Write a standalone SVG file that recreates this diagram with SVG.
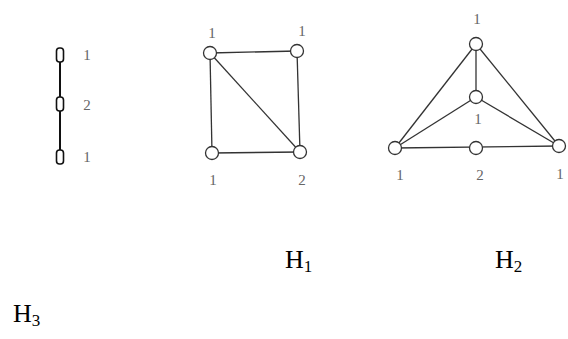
<svg xmlns="http://www.w3.org/2000/svg" width="568" height="339" viewBox="0 0 568 339">
<style>
.lbl{font-family:"Liberation Serif",serif;font-size:15px;fill:#666;text-anchor:middle}
.cap{font-family:"Liberation Serif",serif;font-size:26px;fill:#000}
.sub{font-size:17px}
.e{stroke:#333;stroke-width:1.3;fill:none}
.e0{stroke:#111;stroke-width:2;fill:none}
.n{fill:#fff;stroke:#333;stroke-width:1.3}
.r{fill:#fff;stroke:#111;stroke-width:1.6}
</style>
<rect width="568" height="339" fill="#fff"/>
<g id="connectors">
<line class="e0" x1="60" y1="55" x2="60" y2="157"/>
<line class="e" x1="210" y1="53" x2="297" y2="51"/>
<line class="e" x1="210" y1="53" x2="212" y2="153"/>
<line class="e" x1="297" y1="51" x2="300" y2="152"/>
<line class="e" x1="212" y1="153" x2="300" y2="152"/>
<line class="e" x1="210" y1="53" x2="300" y2="152"/>
<line class="e" x1="476" y1="44" x2="476" y2="97"/>
<line class="e" x1="476" y1="44" x2="395" y2="148"/>
<line class="e" x1="476" y1="44" x2="559" y2="146"/>
<line class="e" x1="476" y1="97" x2="395" y2="148"/>
<line class="e" x1="476" y1="97" x2="559" y2="146"/>
<line class="e" x1="395" y1="148" x2="559" y2="146"/>
</g>
<g id="a1"><rect class="r" x="56.5" y="48" width="7" height="14" rx="3"/><text class="lbl" x="87" y="60">1</text></g>
<g id="a2"><rect class="r" x="56.5" y="97" width="7" height="14" rx="3"/><text class="lbl" x="87" y="110">2</text></g>
<g id="a3"><rect class="r" x="56.5" y="150" width="7" height="14" rx="3"/><text class="lbl" x="87" y="162">1</text></g>
<g id="b1"><circle class="n" cx="210" cy="53" r="6.5"/><text class="lbl" x="212" y="38">1</text></g>
<g id="b2"><circle class="n" cx="297" cy="51" r="6.5"/><text class="lbl" x="302" y="36">1</text></g>
<g id="b3"><circle class="n" cx="212" cy="153" r="6.5"/><text class="lbl" x="213" y="185">1</text></g>
<g id="b4"><circle class="n" cx="300" cy="152" r="6.5"/><text class="lbl" x="302" y="185">2</text></g>
<g id="c1"><circle class="n" cx="476" cy="44" r="6.5"/><text class="lbl" x="477" y="24">1</text></g>
<g id="c2"><circle class="n" cx="476" cy="97" r="6.5"/><text class="lbl" x="478" y="124">1</text></g>
<g id="c3"><circle class="n" cx="395" cy="148" r="6.5"/><text class="lbl" x="400" y="180">1</text></g>
<g id="c4"><circle class="n" cx="476" cy="148" r="6.5"/><text class="lbl" x="480" y="180">2</text></g>
<g id="c5"><circle class="n" cx="559" cy="146" r="6.5"/><text class="lbl" x="560" y="179">1</text></g>
<text class="cap" x="285" y="268">H<tspan class="sub" dy="4">1</tspan></text>
<text class="cap" x="495" y="268">H<tspan class="sub" dy="4">2</tspan></text>
<text class="cap" x="13" y="322">H<tspan class="sub" dy="4">3</tspan></text>
</svg>
